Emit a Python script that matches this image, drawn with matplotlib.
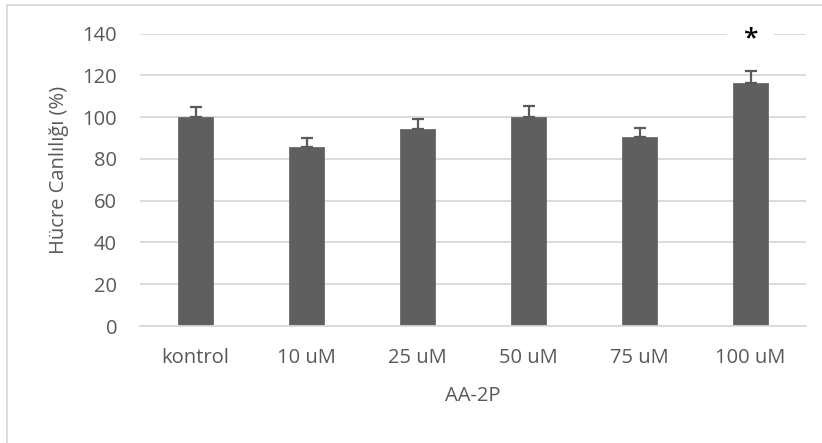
import matplotlib
matplotlib.use("Agg")
import matplotlib.pyplot as plt
from matplotlib.patches import Rectangle
from matplotlib.lines import Line2D

categories = ["kontrol", "10 uM", "25 uM", "50 uM", "75 uM", "100 uM"]
values = [100.0, 85.5, 94.1, 100.1, 90.3, 116.3]
errors = [5.0, 4.4, 4.9, 5.2, 4.6, 5.7]
yticks = [0, 20, 40, 60, 80, 100, 120, 140]
star_label = "*"
star_index = 5
xlabel = "AA-2P"
ylabel = "Hücre Canlılığı (%)"

plt.rcParams['font.family'] = ['Open Sans', 'DejaVu Sans']
txt = "#595959"
grid = "#d9d9d9"
bar_c = "#5f5f5f"
fs = 14.5

W, H = 822, 443
fig = plt.figure(figsize=(W/100, H/100), dpi=100)
ax = fig.add_axes([140/W, 1-326/H, 666/W, (326-33.5)/H])

x = list(range(len(categories)))
ax.bar(x, values, width=0.32, color=bar_c, edgecolor="#6a6a6a", linewidth=0.6, zorder=3)
ax.errorbar(x, values, yerr=[[0]*len(errors), errors], fmt="none",
            ecolor="#5a5a5a", elinewidth=1.6, capsize=4.4, capthick=1.6, zorder=4)

ax.set_xlim(-0.5, len(categories)-0.5)
ax.set_ylim(0, 140)
ax.set_yticks(yticks)
ax.set_xticks(x)
ax.set_xticklabels(categories)
ax.yaxis.grid(True, color=grid, linewidth=1.3, zorder=0)
ax.set_axisbelow(True)
for s in ["top", "right", "left"]:
    ax.spines[s].set_visible(False)
ax.spines["bottom"].set_color(grid)
ax.spines["bottom"].set_linewidth(1.3)
ax.spines["bottom"].set_zorder(5)
ax.tick_params(axis="both", length=0, labelsize=fs, colors=txt)
ax.tick_params(axis="y", pad=16.5)
ax.tick_params(axis="x", pad=15.5)

fig.text(473/W, 1-396/H, xlabel, fontsize=fs, color=txt, ha="center", va="center")
fig.text(59/W, 1-170/H, ylabel, fontsize=fs, color=txt, ha="center", va="center",
         rotation=90)

ax.add_patch(Rectangle((star_index - 0.21, 138.5), 0.42, 3, facecolor="white",
                       edgecolor="none", zorder=2, clip_on=False))
ax.text(star_index, 134.3, star_label, ha="center", va="baseline", fontsize=19,
        color="black", fontweight="semibold", zorder=6, clip_on=False)

fig.add_artist(Line2D([6.5/W, 6.5/W], [0, 1-4.5/H], transform=fig.transFigure,
                      color=grid, linewidth=1.3))
fig.add_artist(Line2D([6.5/W, 1], [1-4.5/H, 1-4.5/H], transform=fig.transFigure,
                      color=grid, linewidth=1.3))

fig.savefig("out.png", dpi=100)
